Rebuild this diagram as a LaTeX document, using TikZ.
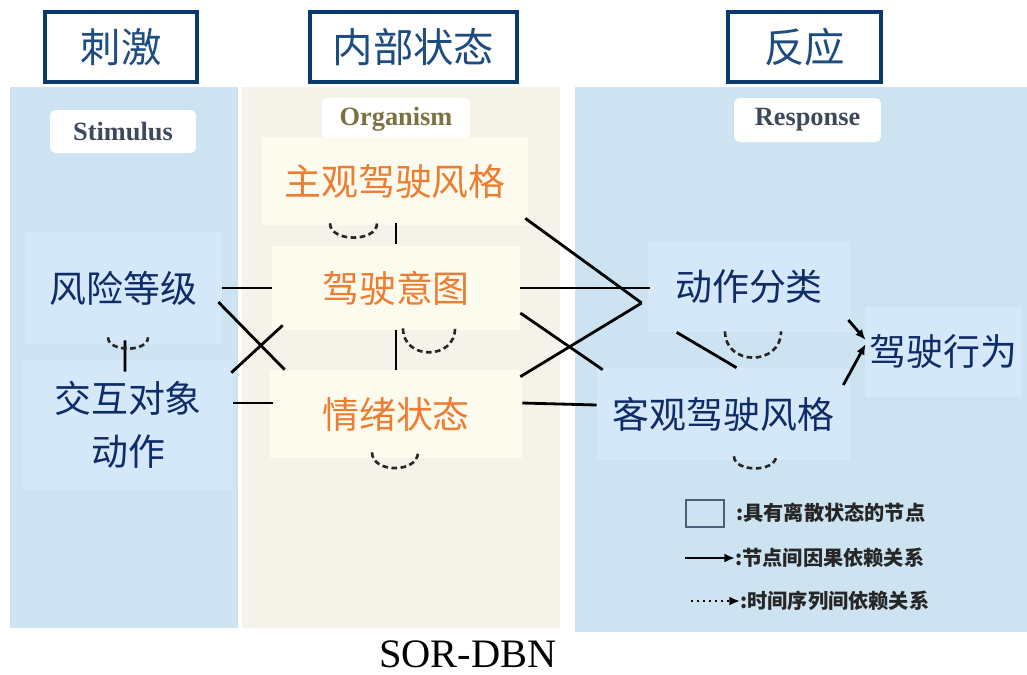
\documentclass[tikz,border=0pt]{standalone}
\usepackage{fontspec}
\setmainfont{Liberation Serif}
\newfontfamily\cjk{Noto Sans CJK SC}
\usetikzlibrary{calc,arrows.meta}
\definecolor{panelblue}{HTML}{CDE3F1}
\definecolor{boxblue}{HTML}{D5E8FA}
\definecolor{panelcream}{HTML}{F5F2EA}
\definecolor{boxcream}{HTML}{FCFBEE}
\definecolor{navytext}{HTML}{102C68}
\definecolor{orangetext}{HTML}{ED7D31}
\definecolor{titleborder}{HTML}{0A3A6C}
\definecolor{titletext}{HTML}{1C4C80}
\definecolor{labelgray}{HTML}{3E4A5C}
\definecolor{labelolive}{HTML}{7A7240}
\definecolor{legendborder}{HTML}{4E5E78}
\tikzset{
  titlebox/.style={draw=titleborder, line width=2.2pt, fill=white, minimum height=1.4cm, inner sep=0pt,
    text=titletext, font=\cjk\fontsize{23pt}{27pt}\selectfont},
  tagbox/.style={fill=white, rounded corners=3pt, inner sep=0pt, font=\bfseries\fontsize{15pt}{17pt}\selectfont},
  bluenode/.style={fill=boxblue, inner sep=0pt, text=navytext, align=center,
    font=\cjk\fontsize{21pt}{30pt}\selectfont},
  creamnode/.style={fill=boxcream, inner sep=0pt, text=orangetext, align=center,
    font=\cjk\fontsize{21pt}{30pt}\selectfont},
  causal/.style={line width=1.6pt, black},
  causalarrow/.style={causal, -{Latex[length=6pt,width=5pt]}},
  temporal/.style={line width=1.5pt, black!85, dash pattern=on 3.2pt off 2pt},
  legendtext/.style={anchor=west, inner sep=0pt, text=black!85, font=\cjk\bfseries\fontsize{11.5pt}{13pt}\selectfont},
}
\begin{document}
\begin{tikzpicture}[x=0.02cm,y=-0.02cm]
\useasboundingbox (0,0) rectangle (1027,674);
% panels
\fill[panelblue] (10,87) rectangle (238,628);
\fill[panelcream] (242,87) rectangle (560,628);
\fill[panelblue] (575,87) rectangle (1027,632);
% titles
\node[titlebox, minimum width=3.04cm] (t1) at (121,47) {刺激};
\node[titlebox, minimum width=4.14cm] (t2) at (413.5,47) {内部状态};
\node[titlebox, minimum width=3.06cm] (t3) at (804.5,47) {反应};
% panel tags
\node[tagbox, minimum width=2.92cm, minimum height=0.86cm, text=labelgray] (s) at (123,131.5) {Stimulus};
\node[tagbox, minimum width=2.96cm, minimum height=0.84cm, text=labelolive] (o) at (396,119) {Organism};
\node[tagbox, minimum width=2.94cm, minimum height=0.88cm, text=labelgray] (r) at (807.5,120) {Response};
% nodes
\node[bluenode, minimum width=3.94cm, minimum height=2.24cm] (rl) at (123.5,288) {风险等级};
\node[bluenode, minimum width=4.2cm, minimum height=2.6cm] (jh) at (128,425) {交互对象\\动作};
\node[creamnode, minimum width=5.32cm, minimum height=1.76cm] (zg) at (395,181) {主观驾驶风格};
\node[creamnode, minimum width=4.96cm, minimum height=1.68cm] (yt) at (396,288) {驾驶意图};
\node[creamnode, minimum width=5.04cm, minimum height=1.76cm] (qx) at (396,414) {情绪状态};
\node[bluenode, minimum width=4.04cm, minimum height=1.8cm] (dz) at (749,287) {动作分类};
\node[bluenode, minimum width=5.06cm, minimum height=1.84cm] (kg) at (723.5,414) {客观驾驶风格};
\node[bluenode, minimum width=3.14cm, minimum height=1.8cm] (xw) at (943.5,352) {驾驶行为};
% causal connectors
\draw[causal] (rl.east) -- (yt.west);
\draw[causal] ($(rl.east)+(-4,14)$) -- ($(qx.north west)+(15,0)$);
\draw[causal] ($(jh.north east)+(-2,13)$) -- ($(yt.south west)+(11,-5)$);
\draw[causal] ($(jh.east)+(0,-22)$) -- ($(qx.west)+(3,-11)$);
\draw[causal] ($(rl.south)+(1.5,-4)$) -- ($(jh.north)+(-3,12)$);
\draw[causal] ($(zg.south)+(1,-2)$) -- ($(yt.north)+(0,-2)$);
\draw[causal] ($(zg.south east)+(-3,-7)$) -- ($(dz.west)+(-6,16)$);
\draw[causal] (yt.east) -- ($(dz.west)+(2,1)$);
\draw[causal] ($(yt.east)+(0,25)$) -- ($(kg.north west)+(6,2)$);
\draw[causal] ($(qx.north east)+(-2,7)$) -- ($(dz.west)+(-6,16)$);
\draw[causal] ($(qx.east)+(0,-11)$) -- ($(kg.west)+(0,-9)$);
\draw[causal] (yt.south) -- (qx.north);
\draw[causal] ($(dz.south west)+(29,0)$) -- ($(kg.north)+(13,0)$);
\draw[causalarrow] ($(dz.east)+(-2,33)$) -- ($(xw.west)+(1,-12)$);
\draw[causalarrow] ($(kg.east)+(-7,-29)$) -- ($(xw.west)+(1,-8)$);
% temporal self loops
\draw[temporal] ($(rl.south)+(-15.5,-7)$) .. controls +(0,15) and +(0,15) .. ($(rl.south)+(24.5,-7)$);
\draw[temporal] ($(zg.south)+(-65,-2)$) .. controls +(0,19) and +(0,19) .. ($(zg.south)+(-18,-2)$);
\draw[temporal] ($(yt.south)+(7,-2)$) .. controls +(0,32) and +(0,32) .. ($(yt.south)+(59,-2)$);
\draw[temporal] ($(qx.south)+(-24,-6)$) .. controls +(0,21) and +(0,21) .. ($(qx.south)+(22,-6)$);
\draw[temporal] ($(dz.south)+(-24,-1)$) .. controls +(0,35) and +(0,35) .. ($(dz.south)+(32,-1)$);
\draw[temporal] ($(kg.south)+(10.5,-4)$) .. controls +(0,16) and +(0,16) .. ($(kg.south)+(52.5,-4)$);
% legend
\node[draw=legendborder, line width=0.9pt, minimum width=0.76cm, minimum height=0.54cm, inner sep=0pt] (lg1) at (705,513.5) {};
\node[legendtext] (lt1) at (736,513) {:具有离散状态的节点};
\coordinate (la) at (685,558);
\node[legendtext] (lt2) at (735,558) {:节点间因果依赖关系};
\draw[line width=1.4pt, -{Latex[length=6pt,width=5pt]}] (la) -- (lt2.west);
\coordinate (lb) at (691,601);
\node[legendtext] (lt3) at (740,601) {:时间序列间依赖关系};
\draw[line width=1.4pt, dotted, -{Latex[length=6pt,width=5pt]}] (lb) -- (lt3.west);
% caption
\node[inner sep=0pt, font=\fontsize{23pt}{27pt}\selectfont] (cap) at (468,654) {SOR-DBN};
\end{tikzpicture}
\end{document}
